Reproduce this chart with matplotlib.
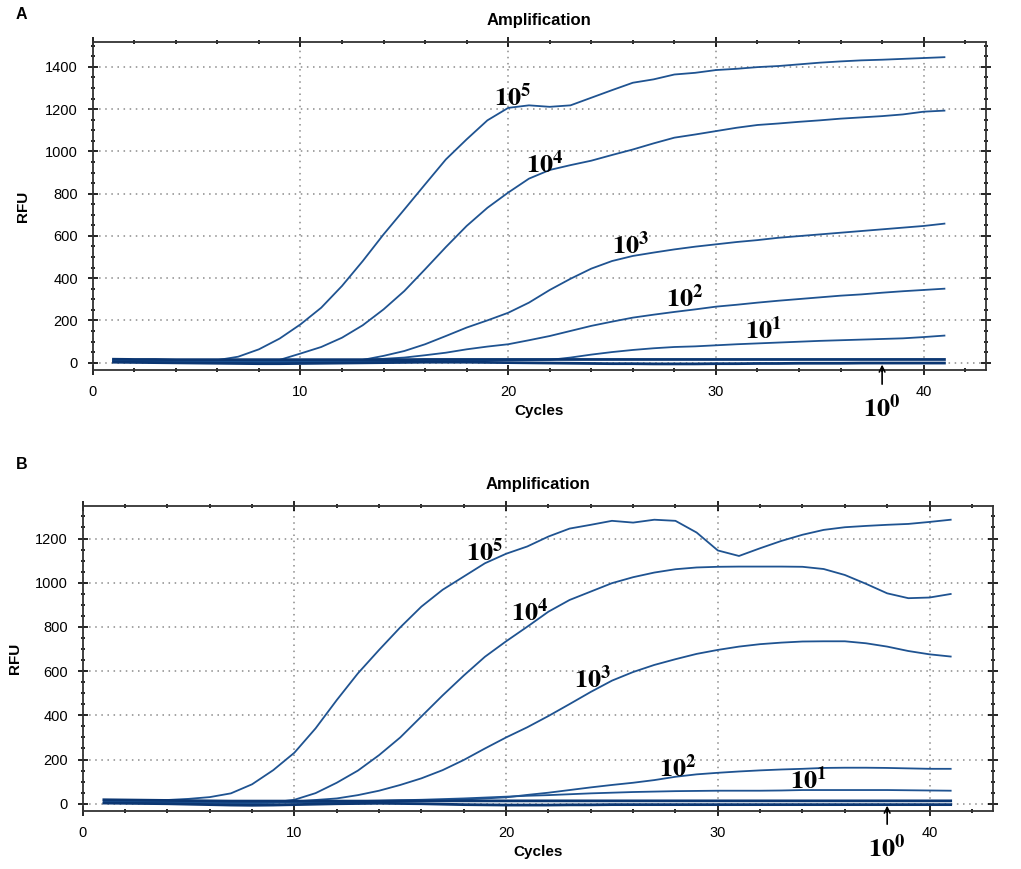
import numpy as np
import matplotlib
matplotlib.use("Agg")
import matplotlib.pyplot as plt
from matplotlib.ticker import MultipleLocator

plt.rcParams["font.family"] = ["Liberation Sans", "DejaVu Sans"]
plt.rcParams["mathtext.fontset"] = "stix"

cycles = list(range(1, 42))

# panel A: RFU per cycle, one list per dilution
a_1e5 = [12, 11, 10, 10, 10, 12, 28, 63, 114, 181, 260, 363, 481, 607, 725, 844, 962, 1057, 1147, 1206,
         1218, 1211, 1218, 1254, 1290, 1325, 1341, 1364, 1372, 1385, 1391, 1399, 1404, 1412, 1420, 1426,
         1431, 1434, 1438, 1442, 1446]
a_1e4 = [10, 9, 8, 7, 6, 4, 2, 3, 13, 43, 74, 118, 177, 252, 339, 442, 547, 647, 733, 805, 871, 912, 935,
         956, 983, 1009, 1038, 1065, 1080, 1096, 1112, 1125, 1132, 1140, 1147, 1155, 1161, 1167, 1175,
         1188, 1193]
a_1e3 = [8, 7, 6, 5, 4, 3, 2, 1, 0, 1, 3, 6, 13, 32, 55, 87, 126, 166, 200, 236, 284, 344, 397, 445, 481,
         505, 521, 536, 549, 560, 571, 580, 591, 599, 607, 615, 623, 631, 639, 647, 658]
a_1e2 = [9, 9, 8, 8, 7, 7, 6, 6, 6, 7, 8, 10, 13, 18, 24, 35, 47, 63, 76, 87, 106, 126, 150, 174, 194,
         213, 227, 240, 252, 265, 274, 284, 293, 301, 309, 317, 323, 331, 338, 344, 350]
a_1e1 = [6, 6, 6, 5, 5, 5, 5, 5, 5, 5, 5, 6, 6, 7, 7, 8, 9, 10, 11, 12, 12, 13, 24, 38, 50, 60, 68, 74,
         77, 82, 87, 91, 95, 99, 103, 106, 109, 112, 115, 121, 128]
a_1e0 = [16, 15, 15, 14, 14, 14, 14, 14, 14, 14, 14, 14, 14, 14, 14, 15, 15, 15, 15, 15, 15, 15, 15, 15,
         15, 15, 15, 15, 15, 15, 15, 15, 15, 15, 15, 15, 15, 15, 15, 15, 15]
a_ntc = [2, 1, 0, -1, -2, -3, -4, -5, -5, -4, -3, -2, -1, 0, 1, 2, 2, 2, 1, 0, -1, -2, -3, -4, -5, -5,
         -6, -6, -6, -5, -5, -4, -4, -3, -3, -3, -2, -2, -2, -2, -2]

# panel B
b_1e5 = [15, 14, 15, 17, 22, 30, 47, 88, 152, 231, 341, 469, 590, 696, 798, 892, 968, 1028, 1088, 1131,
         1164, 1209, 1245, 1262, 1280, 1272, 1285, 1280, 1227, 1146, 1121, 1156, 1189, 1217, 1239, 1251,
         1257, 1262, 1266, 1275, 1285]
b_1e4 = [12, 11, 10, 9, 8, 6, 4, 3, 6, 18, 48, 95, 150, 220, 300, 395, 490, 580, 665, 735, 801, 869, 922,
         960, 998, 1025, 1046, 1061, 1069, 1072, 1073, 1073, 1073, 1072, 1062, 1035, 995, 952, 930, 933,
         949]
b_1e3 = [10, 9, 8, 7, 6, 5, 4, 4, 6, 10, 17, 24, 39, 59, 85, 115, 152, 198, 250, 300, 346, 397, 451, 506,
         557, 596, 628, 654, 678, 696, 711, 722, 729, 734, 735, 735, 726, 711, 691, 676, 666]
b_1e2 = [8, 8, 7, 7, 6, 6, 5, 5, 5, 5, 6, 6, 7, 8, 10, 12, 15, 19, 24, 29, 40, 50, 62, 74, 85, 95, 107,
         122, 133, 140, 146, 151, 155, 158, 162, 163, 163, 162, 160, 158, 158]
b_1e1 = [6, 6, 5, 5, 5, 5, 5, 5, 6, 7, 8, 10, 12, 14, 16, 18, 21, 24, 28, 32, 36, 39, 43, 47, 50, 53, 55,
         57, 58, 59, 59, 59, 60, 62, 62, 62, 62, 62, 61, 60, 59]
b_1e0 = [18, 17, 16, 15, 14, 13, 12, 12, 12, 12, 12, 12, 12, 12, 13, 13, 13, 13, 13, 13, 13, 13, 13, 13,
         13, 13, 13, 13, 13, 13, 13, 13, 13, 13, 13, 13, 13, 13, 13, 13, 13]
b_ntc = [3, 2, 1, 0, -2, -4, -6, -7, -6, -4, -2, 0, 1, 2, 1, 0, -2, -4, -5, -6, -6, -6, -5, -5, -4, -4,
         -4, -4, -4, -4, -4, -4, -4, -4, -4, -4, -4, -4, -4, -4, -4]

exponents = ["5", "4", "3", "2", "1"]
# label anchor (cycle, RFU) for each curve label
a_label_x = [20.2, 21.75, 25.9, 28.5, 32.3]
a_label_y = [1258, 941, 558, 307, 156]
b_label_x = [19.0, 21.1, 24.1, 28.1, 34.3]
b_label_y = [1140, 866, 563, 162, 107]

LINE = "#1f5391"
DARK = "#0b3672"


def style_axes(ax, ylim, ystep):
    ax.set_xlim(0, 43)
    ax.set_ylim(*ylim)
    ax.xaxis.set_major_locator(MultipleLocator(10))
    ax.xaxis.set_minor_locator(MultipleLocator(2))
    ax.yaxis.set_major_locator(MultipleLocator(ystep))
    ax.yaxis.set_minor_locator(MultipleLocator(50))
    ax.tick_params(which="major", direction="inout", length=7, width=1.2,
                   top=True, right=True, labelsize=10.5, pad=7)
    ax.tick_params(which="minor", direction="inout", length=3.5, width=1.2,
                   top=True, right=True)
    for s in ax.spines.values():
        s.set_linewidth(1.3)
        s.set_color("#333333")
    ax.grid(True, which="major", color="#8a8a8a", linestyle=(0, (1, 3)), linewidth=1.1)
    ax.set_xlabel("Cycles", fontsize=11, fontweight="bold", labelpad=4)
    ax.set_ylabel("RFU", fontsize=11, fontweight="bold")
    ax.set_title("Amplification", fontsize=12, fontweight="bold", pad=12)


def draw_panel(ax, curves, baselines, lx, ly, arrow_y, text_y):
    for ys in curves:
        ax.plot(cycles, ys, color=LINE, lw=1.3)
    for ys in baselines:
        ax.plot(cycles, ys, color=DARK, lw=2.0)
    for e, x, y in zip(exponents, lx, ly):
        ax.text(x, y, r"$\mathbf{10^{%s}}$" % e, fontsize=19, ha="center", va="center")
    ax.annotate("", xy=(38, 4), xytext=(38, arrow_y),
                arrowprops=dict(arrowstyle="->", color="black", lw=1.2),
                annotation_clip=False)
    ax.text(38, text_y, r"$\mathbf{10^{0}}$", fontsize=19, ha="center", va="center",
            clip_on=False)


fig = plt.figure(figsize=(10.21, 8.69), dpi=100)

ax_a = fig.add_axes([0.0908, 0.5742, 0.8749, 0.3775])
draw_panel(ax_a, [a_1e5, a_1e4, a_1e3, a_1e2, a_1e1], [a_ntc, a_1e0],
           a_label_x, a_label_y, -115, -213)
style_axes(ax_a, (-35, 1518), 200)
ax_a.yaxis.set_label_coords(-0.070, 0.5)

ax_b = fig.add_axes([0.081, 0.0667, 0.8916, 0.3510])
draw_panel(ax_b, [b_1e5, b_1e4, b_1e3, b_1e2, b_1e1], [b_ntc, b_1e0],
           b_label_x, b_label_y, -105, -200)
style_axes(ax_b, (-33, 1347), 200)
ax_b.yaxis.set_label_coords(-0.067, 0.5)

fig.text(0.021, 0.983, "A", fontsize=11.5, fontweight="bold", ha="center", va="center")
fig.text(0.021, 0.466, "B", fontsize=11.5, fontweight="bold", ha="center", va="center")

fig.savefig("out.png", dpi=100)
